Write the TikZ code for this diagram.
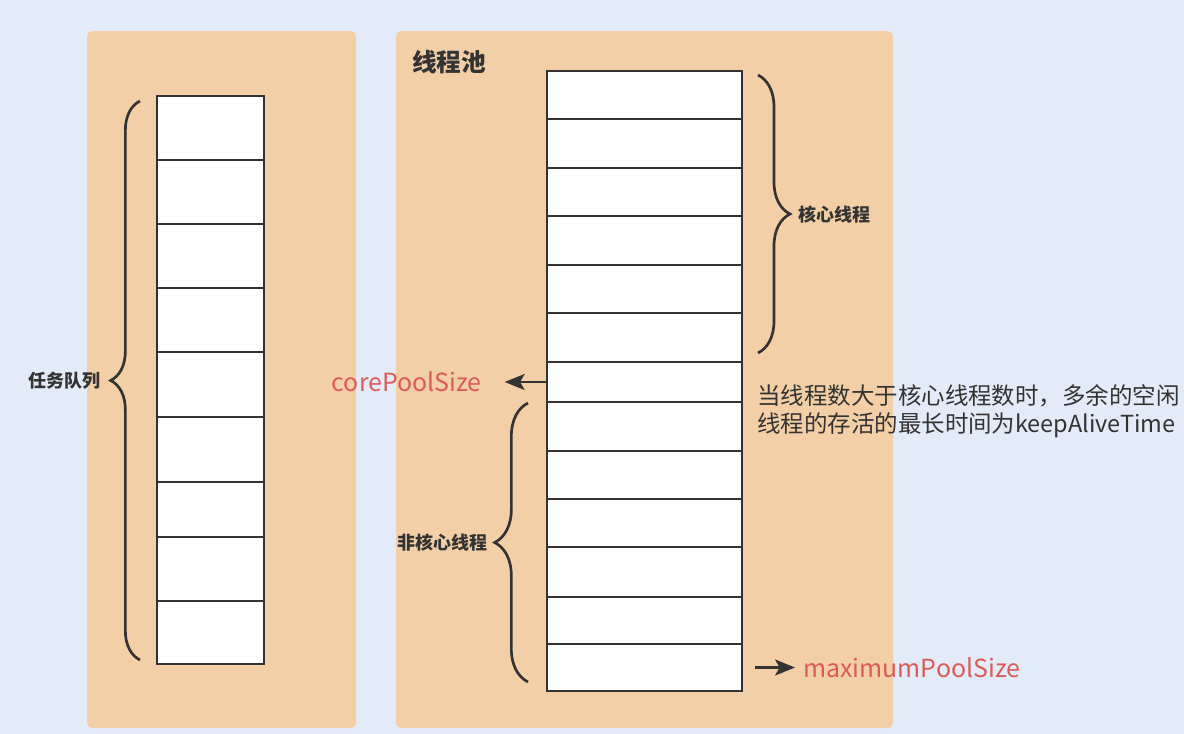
\documentclass[tikz,border=0pt]{standalone}
\usepackage{fontspec}
\setmainfont{Noto Sans CJK SC}
\usetikzlibrary{positioning,arrows.meta,decorations.pathreplacing}
\definecolor{bg}{RGB}{228,235,248}
\definecolor{panel}{RGB}{242,207,167}
\definecolor{ink}{RGB}{51,51,51}
\definecolor{redtxt}{RGB}{217,92,88}

\begin{document}
\begin{tikzpicture}[x=0.75pt, y=-0.75pt, node distance=6pt,
	pan/.style={fill=panel, rounded corners=4pt},
	cell/.style={draw=ink, fill=white, line width=1.7pt, outer sep=0pt, inner sep=0pt, minimum width=#1},
	brc/.style={draw=ink, line width=2pt, decorate, decoration={brace, amplitude=#1}},
	arr/.style={draw=ink, line width=1.8pt, -{Stealth[length=15pt, width=12pt, inset=3.5pt]}},
	tag/.style={text=ink, font=\bfseries\fontsize{13.5pt}{16pt}\selectfont, inner sep=0pt},
	redl/.style={text=redtxt, font=\fontsize{18.7pt}{22pt}\selectfont, inner sep=0pt}]
		\fill[bg] (0,0) rectangle (1184,734);
		\useasboundingbox (0,0) rectangle (1184,734);
		\fill[pan] (87,31) rectangle (356,728);
		\fill[pan] (396,31) rectangle (893,728);

		% task queue
		\foreach \t/\b [count=\i] in {96/160,160/224,224/288,288/352,352/417,417/482,482/537,537/601,601/664}
			\node[cell=80.25pt, minimum height={(\b-\t)*0.75pt}] (q\i) at (210.5,{(\t+\b)/2}) {};
		% thread pool
		\foreach \t/\b [count=\i] in {71/119,119/168,168/216,216/265,265/313,313/362,362/402,402/451,451/499,499/547,547/597,597/644,644/691}
			\node[cell=146.25pt, minimum height={(\b-\t)*0.75pt}] (p\i) at (644.5,{(\t+\b)/2}) {};

		\node[text=ink, font=\bfseries\fontsize{18.5pt}{22pt}\selectfont, anchor=west, inner sep=0pt] (pool) at (412,62) {线程池};

		\draw[brc=22pt] (140,660) -- (140,101);
		\node[tag, anchor=east] (queue) at (101,381) {任务队列};
		\draw[brc=24pt] (758,75) -- (758,353);
		\node[tag, anchor=west] (core_label) at (798,215) {核心线程};
		\draw[brc=25pt] (528,682) -- (528,403);
		\node[tag, anchor=east] (noncore_label) at (488,543) {非核心线程};

		\node[redl, anchor=east] (core) at (482,382) {corePoolSize};
		\draw[arr, shorten >=17pt] (p7.west) -- (core.east);
		\node[redl, anchor=west] (max) at (803,667.5) {maximumPoolSize};
		\draw[arr, shorten >=6pt] ([xshift=10pt]p13.east) -- (max.west);

		\node[text=ink, font=\fontsize{17.6pt}{21pt}\selectfont, align=left, anchor=west, inner sep=0pt] (note) at (757,411)
			{当线程数大于核心线程数时，多余的空闲\\线程的存活的最长时间为keepAliveTime};
	\end{tikzpicture}
\end{document}
